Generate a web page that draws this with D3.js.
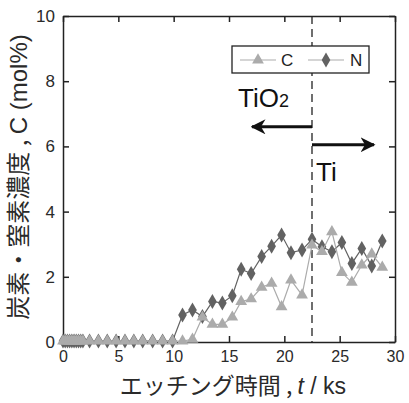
<!DOCTYPE html>
<html lang="ja">
<head>
<meta charset="utf-8">
<title>炭素・窒素濃度</title>
<script src="https://d3js.org/d3.v7.min.js"></script>
<style>
  body { margin: 0; background: #fff; }
  text { font-family: "Liberation Sans", Arial, "Noto Sans CJK JP", sans-serif; }
  .jp { font-family: "Noto Sans CJK JP", "Liberation Sans", sans-serif; }
</style>
</head>
<body>
<script>
// data
var times = [0, 0.2, 0.4, 0.6, 0.8, 1.0, 1.2, 1.4, 1.6, 1.8,
             2.4, 3.2, 4.0, 4.8, 5.6, 6.4, 7.2, 8.1, 9.0, 9.9,
             10.8, 11.7, 12.6, 13.5, 14.4, 15.3, 16.1, 17.0, 17.95, 18.85,
             19.75, 20.6, 21.6, 22.5, 23.4, 24.3, 25.2, 26.1, 27.0, 27.9, 28.85];
var low = [0.03, 0.03, 0.03, 0.03, 0.03, 0.03, 0.03, 0.03, 0.03, 0.03,
           0.03, 0.03, 0.03, 0.03, 0.03, 0.03, 0.03, 0.03, 0.03, 0.03];
var carbon = low.concat([0.03, 0.08, 0.76, 0.54, 0.54, 0.76, 1.24, 1.32, 1.68, 1.8,
                         1.08, 1.9, 1.44, 2.97, 2.77, 3.38, 2.13, 1.83, 2.36, 2.7, 2.29]);
var nitrogen = low.concat([0.83, 0.98, 0.78, 1.24, 1.2, 1.42, 2.23, 2.1, 2.62, 2.94,
                           3.28, 2.74, 2.82, 3.15, 2.92, 2.77, 3.05, 2.41, 2.87, 2.33, 3.1]);
var xTicks = [0, 5, 10, 15, 20, 25, 30];
var yTicks = [0, 2, 4, 6, 8, 10];
var boundary = 22.5;

var w = 409, h = 403;
var m = {left: 63, right: 14, top: 16, bottom: 61};

var svg = d3.select("body").append("svg").attr("width", w).attr("height", h);

var x = d3.scaleLinear().domain([0, 30]).range([m.left, w - m.right]);
var y = d3.scaleLinear().domain([0, 10]).range([h - m.bottom, m.top]);

// axes with inward ticks on all four sides
svg.append("g").attr("transform", "translate(0," + y(0) + ")")
   .call(d3.axisBottom(x).tickValues(xTicks).tickSizeInner(-6).tickSizeOuter(0).tickPadding(9))
   .call(function(g) { g.selectAll("text").attr("font-size", 16).attr("fill", "#2a2a2a"); });
svg.append("g").attr("transform", "translate(0," + y(10) + ")")
   .call(d3.axisTop(x).tickValues(xTicks).tickSizeInner(-6).tickSizeOuter(0).tickFormat(""));
svg.append("g").attr("transform", "translate(" + x(0) + ",0)")
   .call(d3.axisLeft(y).tickValues(yTicks).tickSizeInner(-6).tickSizeOuter(0).tickPadding(8))
   .call(function(g) { g.selectAll("text").attr("font-size", 17).attr("fill", "#2a2a2a"); });
svg.append("g").attr("transform", "translate(" + x(30) + ",0)")
   .call(d3.axisRight(y).tickValues(yTicks).tickSizeInner(-6).tickSizeOuter(0).tickFormat(""));
svg.selectAll(".domain, .tick line").attr("stroke", "#222").attr("stroke-width", 1.5);

// dashed boundary line
svg.append("line")
   .attr("x1", x(boundary)).attr("x2", x(boundary))
   .attr("y1", y(10)).attr("y2", y(0))
   .attr("stroke", "#222").attr("stroke-width", 1.3)
   .attr("stroke-dasharray", "8,5");

// series
var tri = d3.symbol().type(d3.symbolTriangle).size(60);
var dia = d3.symbol().type(d3.symbolDiamond).size(65);
var line = d3.line().x(function(d) { return x(d[0]); }).y(function(d) { return y(d[1]); });

function series(vals, color, sym) {
  var pts = times.map(function(t, i) { return [t, vals[i]]; });
  svg.append("path").datum(pts).attr("d", line)
     .attr("fill", "none").attr("stroke", color).attr("stroke-width", 1.2);
  svg.selectAll(null).data(pts).enter().append("path")
     .attr("d", sym)
     .attr("transform", function(d) { return "translate(" + x(d[0]) + "," + y(d[1]) + ")"; })
     .attr("fill", color);
}
series(nitrogen, "#626262", dia);
series(carbon, "#ababab", tri);

// legend
var lg = svg.append("g");
lg.append("rect").attr("x", 232).attr("y", 46).attr("width", 137).attr("height", 27)
  .attr("fill", "#fff").attr("stroke", "#222").attr("stroke-width", 1.3);
lg.append("line").attr("x1", 240).attr("x2", 276).attr("y1", 60).attr("y2", 60)
  .attr("stroke", "#ababab").attr("stroke-width", 1.2);
lg.append("path").attr("d", tri).attr("transform", "translate(258,60)").attr("fill", "#ababab");
lg.append("text").attr("x", 281).attr("y", 66).attr("font-size", 17).attr("fill", "#222").text("C");
lg.append("line").attr("x1", 308).attr("x2", 344).attr("y1", 60).attr("y2", 60)
  .attr("stroke", "#ababab").attr("stroke-width", 1.2);
lg.append("path").attr("d", dia).attr("transform", "translate(326,60)").attr("fill", "#626262");
lg.append("text").attr("x", 350).attr("y", 66).attr("font-size", 17).attr("fill", "#222").text("N");

// arrows and region labels
var defs = svg.append("defs");
defs.append("marker").attr("id", "head").attr("viewBox", "0 0 10 10")
    .attr("refX", 9).attr("refY", 5).attr("markerWidth", 5).attr("markerHeight", 5)
    .attr("orient", "auto")
    .append("path").attr("d", "M0,0 L10,5 L0,10 L3,5 Z").attr("fill", "#111");

svg.append("line").attr("x1", x(boundary)).attr("x2", x(boundary) - 60)
   .attr("y1", y(6.6)).attr("y2", y(6.6))
   .attr("stroke", "#111").attr("stroke-width", 3).attr("marker-end", "url(#head)");
svg.append("line").attr("x1", x(boundary)).attr("x2", x(boundary) + 62)
   .attr("y1", y(6.05)).attr("y2", y(6.05))
   .attr("stroke", "#111").attr("stroke-width", 3).attr("marker-end", "url(#head)");

var tio = svg.append("text").attr("x", 238).attr("y", 107).attr("font-size", 26).attr("fill", "#111");
tio.append("tspan").text("TiO");
tio.append("tspan").attr("font-size", 18).text("2");
svg.append("text").attr("x", 316).attr("y", 181).attr("font-size", 26).attr("fill", "#111").text("Ti");

// axis titles
var xt = svg.append("text").attr("class", "jp").attr("x", (m.left + w - m.right) / 2 + 4).attr("y", 394)
   .attr("text-anchor", "middle").attr("font-size", 23).attr("fill", "#2a2a2a");
xt.append("tspan").text("エッチング時間 , ");
xt.append("tspan").attr("font-style", "italic").attr("font-family", "Liberation Sans").text("t");
xt.append("tspan").attr("font-family", "Liberation Sans").text(" / ks");

var yt = svg.append("text").attr("class", "jp")
   .attr("transform", "translate(27," + ((m.top + h - m.bottom) / 2 - 2) + ") rotate(-90)")
   .attr("text-anchor", "middle").attr("font-size", 24).attr("fill", "#2a2a2a");
yt.append("tspan").text("炭素・窒素濃度 , ");
yt.append("tspan").attr("font-family", "Liberation Sans").text("C (mol%)");
</script>
</body>
</html>
